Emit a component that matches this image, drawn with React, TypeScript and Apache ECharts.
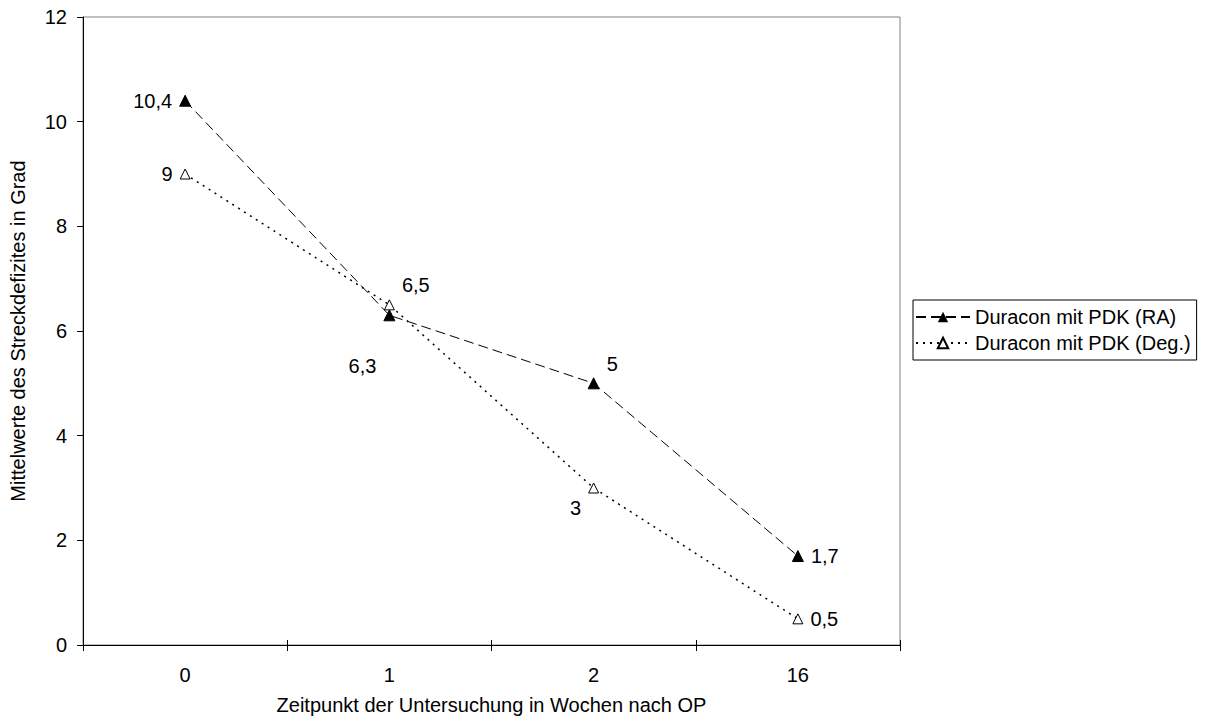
import React, { useEffect, useRef } from "react";
import * as echarts from "echarts";

// Weeks after surgery (category axis)
const weeks = ["0", "1", "2", "16"];
// Mean extension deficit in degrees
const raValues = [10.4, 6.3, 5, 1.7];
const degValues = [9, 6.5, 3, 0.5];
const seriesNames = ["Duracon mit PDK (RA)", "Duracon mit PDK (Deg.)"];

// Where each value label sits relative to its point
const raLabelPos = [
  { position: "left", offset: [0, 0] },
  { position: "left", offset: [0, 51] },
  { position: "right", offset: [0, -19] },
  { position: "right", offset: [0, 0] },
];
const degLabelPos = [
  { position: "left", offset: [0, 0] },
  { position: "right", offset: [0, -20] },
  { position: "left", offset: [0, 20] },
  { position: "right", offset: [0, 0] },
];

const FONT = "'Liberation Sans', Arial, sans-serif";
const fmt = (v: number) => String(v).replace(".", ",");

function buildData(values: number[], pos: { position: string; offset: number[] }[]) {
  return values.map((v, i) => ({
    value: v,
    label: { position: pos[i].position, offset: pos[i].offset },
  }));
}

export default function App() {
  const ref = useRef<HTMLDivElement>(null);

  useEffect(() => {
    if (!ref.current) return;
    const chart = echarts.init(ref.current, null, { renderer: "svg" });
    const labelBase = {
      show: true,
      color: "#000",
      fontFamily: FONT,
      fontSize: 20,
      distance: 7,
      formatter: (p: any) => fmt(p.value),
    };
    chart.setOption({
      animation: false,
      backgroundColor: "#fff",
      textStyle: { fontFamily: FONT },
      grid: {
        left: 82,
        right: 306,
        top: 17,
        bottom: 80,
        show: true,
        borderColor: "#808080",
        borderWidth: 1,
      },
      legend: {
        orient: "vertical",
        left: 913,
        top: 300,
        padding: [7, 6, 7, 2],
        itemGap: 6,
        itemWidth: 54,
        itemHeight: 13,
        borderColor: "#000",
        borderWidth: 1,
        textStyle: { fontFamily: FONT, fontSize: 20, color: "#000" },
        data: seriesNames,
      },
      xAxis: [
        {
          type: "category",
          data: weeks,
          boundaryGap: true,
          name: "Zeitpunkt der Untersuchung in Wochen nach OP",
          nameLocation: "middle",
          nameGap: 50,
          nameTextStyle: { fontFamily: FONT, fontSize: 20, color: "#000" },
          axisLine: { lineStyle: { color: "#000", width: 1 } },
          axisTick: { show: true, length: 6, lineStyle: { color: "#000" } },
          axisLabel: { color: "#000", fontFamily: FONT, fontSize: 20, margin: 20 },
        },
        {
          type: "category",
          data: weeks,
          boundaryGap: true,
          position: "bottom",
          axisLine: { show: false },
          axisTick: { show: true, inside: true, length: 5, lineStyle: { color: "#000" } },
          axisLabel: { show: false },
        },
      ],
      yAxis: {
        type: "value",
        min: 0,
        max: 12,
        interval: 2,
        name: "Mittelwerte des Streckdefizites in Grad",
        nameLocation: "middle",
        nameGap: 55,
        nameTextStyle: { fontFamily: FONT, fontSize: 20, color: "#000" },
        axisLine: { show: true, lineStyle: { color: "#000", width: 1 } },
        axisTick: { show: true, length: 6, lineStyle: { color: "#000" } },
        axisLabel: { color: "#000", fontFamily: FONT, fontSize: 20, margin: 16 },
        splitLine: { show: false },
      },
      series: [
        {
          name: seriesNames[0],
          type: "line",
          data: buildData(raValues, raLabelPos),
          symbol: "triangle",
          symbolSize: 11,
          lineStyle: { color: "#000", width: 1, type: [10, 5] },
          itemStyle: { color: "#000", borderColor: "#000" },
          label: labelBase,
          z: 3,
        },
        {
          name: seriesNames[1],
          type: "line",
          data: buildData(degValues, degLabelPos),
          symbol: "triangle",
          symbolSize: 10,
          lineStyle: { color: "#000", width: 1.5, type: [2, 5] },
          itemStyle: { color: "#fff", borderColor: "#000", borderWidth: 1 },
          label: labelBase,
          z: 4,
        },
      ],
    });
    return () => chart.dispose();
  }, []);

  return <div ref={ref} style={{ width: 1206, height: 725, position: "absolute", left: 0, top: 0 }} />;
}
